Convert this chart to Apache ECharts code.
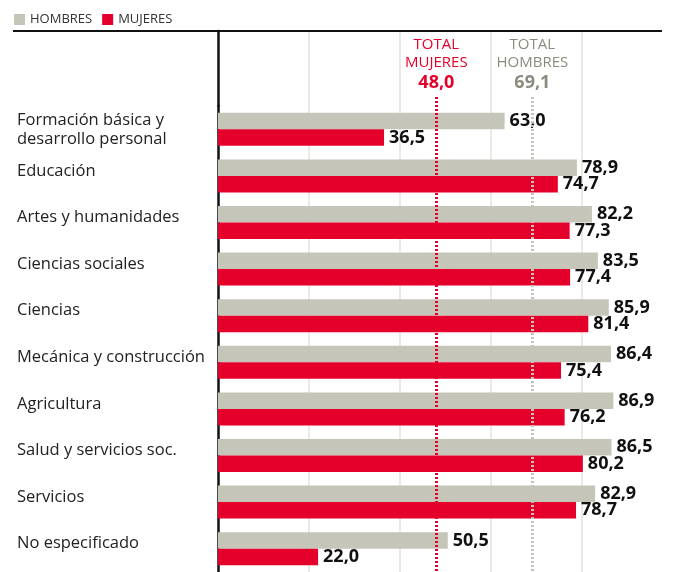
<!DOCTYPE html>
<html><head><meta charset="utf-8">
<script src="https://cdn.jsdelivr.net/npm/echarts@6/dist/echarts.min.js"></script>
<style>html,body{margin:0;padding:0;background:#fff}#c{width:682px;height:572px}</style>
</head><body><div id="c"></div>
<script>
const categories = ['Formación básica y\ndesarrollo personal','Educación','Artes y humanidades','Ciencias sociales','Ciencias','Mecánica y construcción','Agricultura','Salud y servicios soc.','Servicios','No especificado'];
const hombres = [63.0,78.9,82.2,83.5,85.9,86.4,86.9,86.5,82.9,50.5];
const mujeres = [36.5,74.7,77.3,77.4,81.4,75.4,76.2,80.2,78.7,22.0];
const totalMujeres = 48.0;
const totalHombres = 69.1;
const seriesNames = ['HOMBRES','MUJERES'];

const GRAY = '#c6c5b9', RED = '#e4002b', GRAYTXT = '#8c8b7e';
const FONT = 'Open Sans';
const fmt = v => v.toFixed(1).replace('.', ',');
const XMAX = 97.6;

const chart = echarts.init(document.getElementById('c'), null, {renderer:'canvas'});
const xAxisBase = {min:0, max:XMAX, interval:20, axisLine:{show:false}, axisTick:{show:false}, axisLabel:{show:false},
  splitLine:{show:true, showMinLine:false, showMaxLine:false, lineStyle:{color:'#e4e2db', width:1.5}}};
const valueLabel = {show:true, position:'right', distance:5, fontFamily:FONT, fontWeight:'bold', fontSize:18, color:'#111', formatter:p=>fmt(p.value)};

function totalLine(val, color, txtColor, name){
  return {symbol:['none','none'], silent:true, animation:false,
    lineStyle:{color:color, type:[2,2], width:3},
    label:{show:true, position:'start', distance:3, formatter:'TOTAL\n'+name+'\n{v|'+fmt(val)+'}',
      color:txtColor, fontFamily:FONT, fontSize:15, lineHeight:18, align:'center',
      rich:{v:{fontFamily:FONT, fontWeight:'bold', fontSize:18, lineHeight:22, color:txtColor}}},
    data:[[{xAxis:val, y:97},{xAxis:val, y:572}]]};
}

chart.setOption({
  animation:false,
  legend:{data:seriesNames, left:9, top:8, icon:'rect', itemWidth:11, itemHeight:11, itemGap:10,
    textStyle:{fontFamily:FONT, fontSize:13, color:'#333'}},
  grid:[{left:218, right:20, top:106, height:468}, {left:218, right:20, top:31, height:75}],
  xAxis:[Object.assign({gridIndex:0, type:'value'}, xAxisBase), Object.assign({gridIndex:1, type:'value'}, xAxisBase)],
  yAxis:[{gridIndex:0, type:'category', inverse:true, data:categories,
      axisLine:{show:true, lineStyle:{color:'#111', width:2.5}}, axisTick:{show:false},
      axisLabel:{align:'left', margin:201, fontFamily:FONT, fontSize:16.5, color:'#222', lineHeight:19,
        formatter:v=> v.indexOf('\n')>=0 ? v : '{a|'+v+'}',
        rich:{a:{fontFamily:FONT, fontSize:16.5, color:'#222', padding:[0,0,10,0]}}}},
    {gridIndex:1, type:'value', min:0, max:1, axisLine:{show:true, onZero:false, lineStyle:{color:'#111', width:2.5}},
      axisTick:{show:false}, axisLabel:{show:false}, splitLine:{show:false}}],
  graphic:[{type:'line', shape:{x1:13, y1:31, x2:662, y2:31}, style:{stroke:'#111', lineWidth:2}, z:10}],
  series:[
    {name:'HOMBRES', type:'bar', xAxisIndex:0, yAxisIndex:0, data:hombres, barWidth:16.5, barGap:'0%',
      itemStyle:{color:GRAY}, label:valueLabel, markLine:totalLine(totalHombres, GRAY, GRAYTXT, 'HOMBRES')},
    {name:'MUJERES', type:'bar', xAxisIndex:0, yAxisIndex:0, data:mujeres, barWidth:16.5, barGap:'0%',
      itemStyle:{color:RED}, label:valueLabel, markLine:totalLine(totalMujeres, RED, RED, 'MUJERES')}
  ]
});
</script></body></html>
